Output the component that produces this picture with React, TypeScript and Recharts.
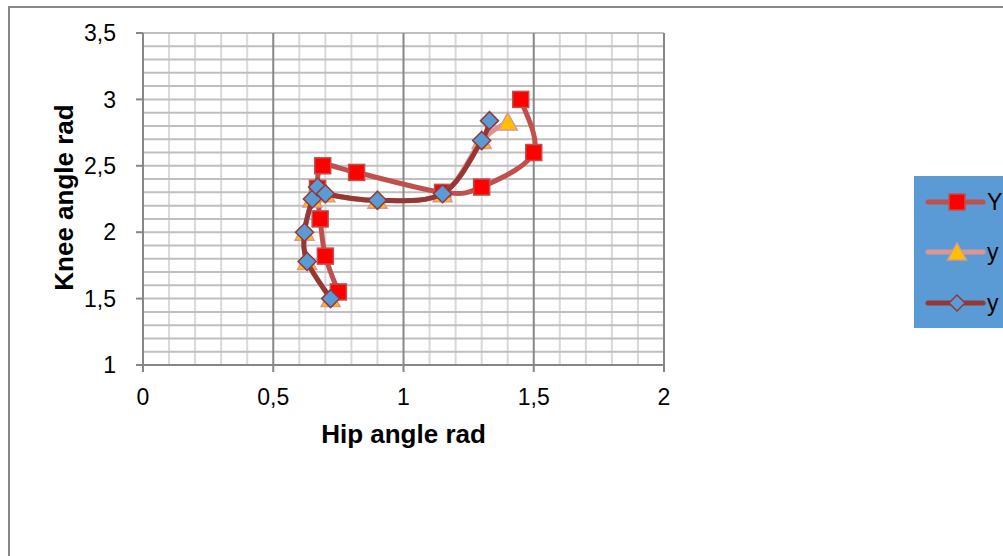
import React from 'react';
import { ScatterChart, Scatter, XAxis, YAxis, CartesianGrid, Legend, Label } from 'recharts';

// ---- data ----
const seriesNames = ['Y', 'y', 'y'];

const hip1 = [0.75, 0.70, 0.68, 0.67, 0.69, 0.82, 1.15, 1.30, 1.50, 1.45];
const knee1 = [1.55, 1.82, 2.10, 2.33, 2.50, 2.45, 2.30, 2.34, 2.60, 3.00];

const hip2 = [0.72, 0.63, 0.62, 0.65, 0.67, 0.70, 0.90, 1.15, 1.30, 1.40];
const knee2 = [1.50, 1.78, 2.00, 2.25, 2.34, 2.29, 2.24, 2.29, 2.69, 2.83];

const hip3 = [0.72, 0.63, 0.62, 0.65, 0.67, 0.70, 0.90, 1.15, 1.30, 1.33];
const knee3 = [1.50, 1.78, 2.00, 2.25, 2.34, 2.29, 2.24, 2.29, 2.69, 2.84];

const xTicks = [0, 0.5, 1, 1.5, 2];
const yTicks = [1, 1.5, 2, 2.5, 3, 3.5];
const xMinorGrid = [0.1, 0.2, 0.3, 0.4, 0.6, 0.7, 0.8, 0.9, 1.1, 1.2, 1.3, 1.4, 1.6, 1.7, 1.8, 1.9];
const xMajorGrid = [0, 0.5, 1, 1.5, 2];
const yGrid = [1, 1.1, 1.2, 1.3, 1.4, 1.5, 1.6, 1.7, 1.8, 1.9, 2, 2.1, 2.2, 2.3, 2.4, 2.5, 2.6, 2.7, 2.8, 2.9, 3, 3.1, 3.2, 3.3, 3.4, 3.5];

const toPoints = (xs: number[], ys: number[]) => xs.map((x, i) => ({ x, y: ys[i] }));
const data1 = toPoints(hip1, knee1);
const data2 = toPoints(hip2, knee2);
const data3 = toPoints(hip3, knee3);

// ---- styles ----
const FONT = '"Liberation Sans", Arial, sans-serif';
const C1_LINE = '#C0504D';
const C2_LINE = '#D99694';
const C3_LINE = '#953735';
const AXIS = '#878787';

// smooth curve (Catmull-Rom like Excel's smoothed line)
const smoothCurve: any = (context: any) => {
  let pts: [number, number][] = [];
  return {
    areaStart() {},
    areaEnd() {},
    lineStart() {
      pts = [];
    },
    point(x: number, y: number) {
      pts.push([+x, +y]);
    },
    lineEnd() {
      const n = pts.length;
      if (n === 0) return;
      context.moveTo(pts[0][0], pts[0][1]);
      if (n === 1) return;
      const t = 1 / 6;
      for (let i = 0; i < n - 1; i++) {
        const p0 = pts[i - 1] || pts[i];
        const p1 = pts[i];
        const p2 = pts[i + 1];
        const p3 = pts[i + 2] || p2;
        context.bezierCurveTo(
          p1[0] + (p2[0] - p0[0]) * t,
          p1[1] + (p2[1] - p0[1]) * t,
          p2[0] - (p3[0] - p1[0]) * t,
          p2[1] - (p3[1] - p1[1]) * t,
          p2[0],
          p2[1]
        );
      }
    },
  };
};

const SquareMark = (p: any) => (
  <rect x={p.cx - 8} y={p.cy - 8} width={16} height={16} fill="#FF0000" stroke={C1_LINE} strokeWidth={1.5} />
);
const TriangleMark = (p: any) => (
  <polygon
    points={`${p.cx},${p.cy - 9} ${p.cx + 9.5},${p.cy + 8} ${p.cx - 9.5},${p.cy + 8}`}
    fill="#FFC000"
    stroke={C2_LINE}
    strokeWidth={1.5}
  />
);
const DiamondMark = (p: any) => (
  <polygon
    points={`${p.cx},${p.cy - 9} ${p.cx + 9},${p.cy} ${p.cx},${p.cy + 9} ${p.cx - 9},${p.cy}`}
    fill="#5B9BD5"
    stroke={C3_LINE}
    strokeWidth={1.5}
  />
);

const fmt = (v: number) => String(v).replace('.', ',');

const LegendBox = () => {
  const rows = [26, 76, 127];
  const lineColors = [C1_LINE, C2_LINE, C3_LINE];
  return (
    <div style={{ width: 100, height: 152, background: '#5B9BD5' }}>
      <svg width={100} height={152} style={{ display: 'block' }}>
        {rows.map((cy, i) => (
          <g key={i}>
            <line x1={14} y1={cy} x2={69} y2={cy} stroke={lineColors[i]} strokeWidth={5} strokeLinecap="round" />
            {i === 0 && <SquareMark cx={43} cy={cy} />}
            {i === 1 && <TriangleMark cx={43} cy={cy} />}
            {i === 2 && (
              <polygon
                points={`43,${cy - 8} 51,${cy} 43,${cy + 8} 35,${cy}`}
                fill="#5B9BD5"
                stroke={C3_LINE}
                strokeWidth={1.5}
              />
            )}
            <text x={73} y={cy + 8} fontSize={23} fontFamily={FONT} fill="#000">
              {seriesNames[i]}
            </text>
          </g>
        ))}
      </svg>
    </div>
  );
};

const XTitle = (props: any) => {
  const vb = props.viewBox || {};
  return (
    <text x={vb.x + vb.width / 2} y={vb.y + 78} textAnchor="middle" fontSize={26} fontWeight="bold" fontFamily={FONT} fill="#000">
      Hip angle rad
    </text>
  );
};

const YTitle = (props: any) => {
  const vb = props.viewBox || {};
  const x = vb.x + 65;
  const y = vb.y + vb.height / 2 - 1.5;
  return (
    <text x={x} y={y} transform={`rotate(-90, ${x}, ${y})`} textAnchor="middle" fontSize={26} fontWeight="bold" fontFamily={FONT} fill="#000">
      Knee angle rad
    </text>
  );
};

export default function App() {
  return (
    <div style={{ position: 'fixed', left: 8, top: 6, width: 995, height: 550, overflow: 'hidden', background: '#fff' }}>
      <div style={{ position: 'absolute', left: 0, top: 0 }}>
        <ScatterChart width={995} height={550} margin={{ top: 27, right: 339, bottom: 111, left: 0 }} style={{ fontFamily: FONT }}>
          <CartesianGrid horizontal={false} vertical verticalValues={xMinorGrid} stroke="#D9D9D9" strokeWidth={2} />
          <CartesianGrid vertical={false} horizontal horizontalValues={yGrid} stroke="#BFBFBF" strokeWidth={2} />
          <CartesianGrid horizontal={false} vertical verticalValues={xMajorGrid} stroke={AXIS} strokeWidth={2} />
          <XAxis
            type="number"
            dataKey="x"
            domain={[0, 2]}
            ticks={xTicks}
            interval={0}
            height={80}
            tickFormatter={fmt}
            tick={{ fontSize: 23, fill: '#000', fontFamily: FONT }}
            tickSize={7}
            tickMargin={17}
            axisLine={{ stroke: AXIS, strokeWidth: 2 }}
            tickLine={{ stroke: AXIS, strokeWidth: 2 }}
            allowDataOverflow
          >
            <Label content={<XTitle />} />
          </XAxis>
          <YAxis
            type="number"
            dataKey="y"
            domain={[1, 3.5]}
            ticks={yTicks}
            interval={0}
            width={135}
            tickFormatter={fmt}
            tick={{ fontSize: 23, fill: '#000', fontFamily: FONT }}
            tickSize={7}
            tickMargin={20}
            axisLine={{ stroke: AXIS, strokeWidth: 2 }}
            tickLine={{ stroke: AXIS, strokeWidth: 2 }}
            allowDataOverflow
          >
            <Label content={<YTitle />} />
          </YAxis>
          <Scatter
            name={seriesNames[0]}
            data={data1}
            fill="#FF0000"
            line={{ stroke: C1_LINE, strokeWidth: 5, strokeLinecap: 'round', strokeLinejoin: 'round' }}
            lineType="joint"
            lineJointType={smoothCurve}
            shape={SquareMark}
            isAnimationActive={false}
          />
          <Scatter
            name={seriesNames[1]}
            data={data2}
            fill="#FFC000"
            line={{ stroke: C2_LINE, strokeWidth: 5, strokeLinecap: 'round', strokeLinejoin: 'round' }}
            lineType="joint"
            lineJointType={smoothCurve}
            shape={TriangleMark}
            isAnimationActive={false}
          />
          <Scatter
            name={seriesNames[2]}
            data={data3}
            fill="#5B9BD5"
            line={{ stroke: C3_LINE, strokeWidth: 5, strokeLinecap: 'round', strokeLinejoin: 'round' }}
            lineType="joint"
            lineJointType={smoothCurve}
            shape={DiamondMark}
            isAnimationActive={false}
          />
          <Legend
            layout="vertical"
            align="center"
            verticalAlign="middle"
            content={<LegendBox />}
            wrapperStyle={{ position: 'absolute', left: 906, top: 170, width: 100, height: 152 }}
          />
        </ScatterChart>
      </div>
      <div
        style={{
          position: 'absolute',
          left: 0,
          top: 0,
          width: 1200,
          height: 800,
          borderLeft: `2px solid ${AXIS}`,
          borderTop: `2px solid ${AXIS}`,
          pointerEvents: 'none',
        }}
      />
    </div>
  );
}
